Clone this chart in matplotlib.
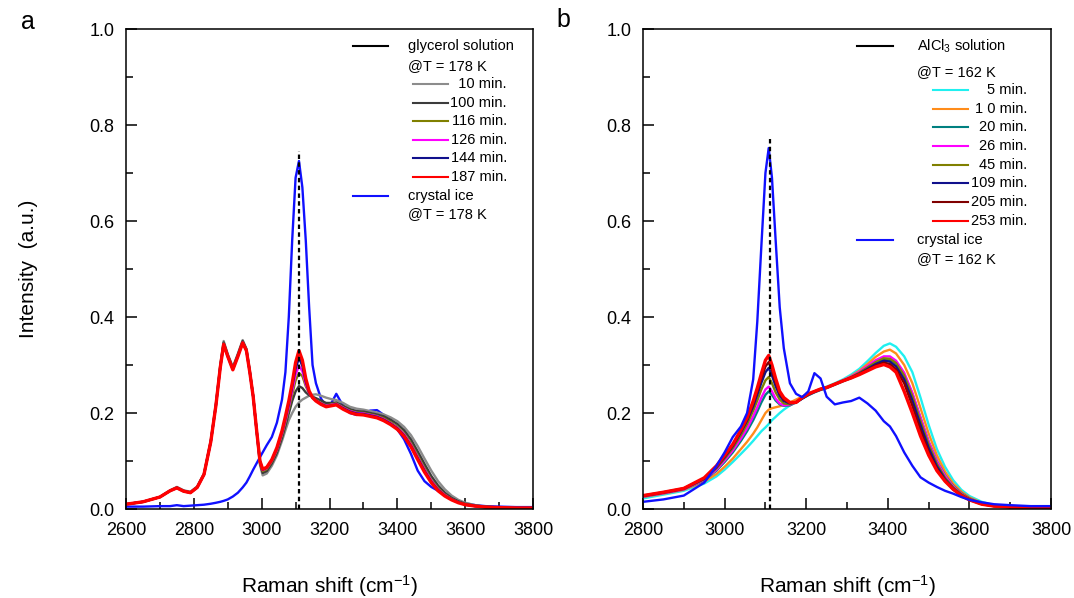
import matplotlib
matplotlib.use("Agg")
import matplotlib.pyplot as plt
from matplotlib.ticker import MultipleLocator

plt.rcParams['font.family'] = ['Liberation Sans', 'DejaVu Sans']
plt.rcParams['mathtext.fontset'] = 'custom'
plt.rcParams['mathtext.rm'] = 'Liberation Sans'
plt.rcParams['mathtext.it'] = 'Liberation Sans'
plt.rcParams['mathtext.default'] = 'regular'

# ---- panel a: glycerol solution @178 K ----
xa = [2600, 2650, 2700, 2730, 2750, 2770, 2790, 2810, 2830, 2850,
      2865, 2878, 2888, 2900, 2915, 2930, 2944, 2955, 2965, 2975,
      2985, 2995, 3003, 3015, 3030, 3045, 3060, 3070, 3080, 3090,
      3100, 3110, 3120, 3130, 3140, 3150, 3160, 3175, 3190, 3205,
      3220, 3240, 3260, 3280, 3300, 3320, 3340, 3360, 3380, 3400,
      3420, 3440, 3460, 3480, 3500, 3520, 3540, 3560, 3580, 3600,
      3630, 3660, 3700, 3750, 3800]

gly_10 = [0.010, 0.015, 0.025, 0.039, 0.046, 0.039, 0.036, 0.047, 0.074, 0.143,
          0.219, 0.300, 0.350, 0.323, 0.296, 0.324, 0.352, 0.334, 0.288, 0.235,
          0.162, 0.092, 0.070, 0.074, 0.090, 0.112, 0.142, 0.164, 0.185, 0.200,
          0.213, 0.222, 0.228, 0.232, 0.236, 0.238, 0.239, 0.236, 0.232, 0.229,
          0.227, 0.221, 0.213, 0.209, 0.207, 0.204, 0.201, 0.197, 0.191, 0.183,
          0.171, 0.154, 0.131, 0.105, 0.080, 0.058, 0.041, 0.028, 0.019, 0.013,
          0.008, 0.005, 0.003, 0.002, 0.002]
gly_100 = [0.010, 0.015, 0.025, 0.038, 0.045, 0.038, 0.035, 0.046, 0.073, 0.141,
           0.217, 0.298, 0.347, 0.321, 0.294, 0.322, 0.350, 0.333, 0.287, 0.235,
           0.164, 0.095, 0.075, 0.079, 0.095, 0.117, 0.148, 0.173, 0.199, 0.225,
           0.245, 0.256, 0.252, 0.243, 0.237, 0.234, 0.231, 0.226, 0.221, 0.221,
           0.222, 0.215, 0.208, 0.204, 0.203, 0.200, 0.197, 0.193, 0.186, 0.177,
           0.164, 0.145, 0.120, 0.094, 0.069, 0.049, 0.034, 0.023, 0.016, 0.011,
           0.007, 0.005, 0.003, 0.002, 0.002]
gly_116 = [0.010, 0.015, 0.025, 0.038, 0.044, 0.037, 0.034, 0.045, 0.072, 0.140,
           0.215, 0.296, 0.345, 0.319, 0.292, 0.320, 0.348, 0.331, 0.286, 0.235,
           0.165, 0.098, 0.079, 0.083, 0.099, 0.122, 0.154, 0.180, 0.208, 0.238,
           0.268, 0.283, 0.277, 0.256, 0.241, 0.232, 0.227, 0.221, 0.216, 0.218,
           0.220, 0.212, 0.205, 0.201, 0.200, 0.197, 0.194, 0.189, 0.181, 0.171,
           0.157, 0.137, 0.111, 0.085, 0.061, 0.043, 0.030, 0.021, 0.014, 0.010,
           0.006, 0.004, 0.003, 0.002, 0.002]
gly_126 = [0.010, 0.015, 0.025, 0.038, 0.044, 0.037, 0.034, 0.045, 0.072, 0.140,
           0.215, 0.295, 0.344, 0.318, 0.291, 0.319, 0.347, 0.330, 0.285, 0.234,
           0.165, 0.099, 0.081, 0.085, 0.101, 0.124, 0.157, 0.184, 0.213, 0.246,
           0.280, 0.298, 0.287, 0.260, 0.242, 0.232, 0.226, 0.220, 0.215, 0.217,
           0.219, 0.211, 0.204, 0.200, 0.199, 0.196, 0.193, 0.187, 0.179, 0.169,
           0.155, 0.134, 0.108, 0.082, 0.059, 0.041, 0.029, 0.020, 0.014, 0.009,
           0.006, 0.004, 0.003, 0.002, 0.002]
gly_144 = [0.010, 0.015, 0.025, 0.038, 0.044, 0.037, 0.034, 0.045, 0.072, 0.140,
           0.215, 0.295, 0.344, 0.318, 0.291, 0.319, 0.347, 0.330, 0.285, 0.234,
           0.165, 0.100, 0.082, 0.086, 0.102, 0.126, 0.160, 0.188, 0.218, 0.254,
           0.292, 0.315, 0.298, 0.265, 0.243, 0.232, 0.226, 0.219, 0.214, 0.216,
           0.218, 0.210, 0.203, 0.199, 0.198, 0.195, 0.192, 0.186, 0.178, 0.168,
           0.153, 0.132, 0.106, 0.080, 0.057, 0.040, 0.028, 0.020, 0.014, 0.009,
           0.006, 0.004, 0.003, 0.002, 0.002]
gly_187 = [0.010, 0.015, 0.025, 0.038, 0.044, 0.037, 0.034, 0.045, 0.072, 0.140,
           0.215, 0.295, 0.343, 0.318, 0.290, 0.318, 0.346, 0.330, 0.285, 0.234,
           0.165, 0.100, 0.083, 0.087, 0.103, 0.128, 0.163, 0.193, 0.225, 0.262,
           0.305, 0.330, 0.310, 0.272, 0.246, 0.232, 0.225, 0.218, 0.213, 0.215,
           0.217, 0.208, 0.201, 0.197, 0.196, 0.193, 0.190, 0.184, 0.176, 0.166,
           0.151, 0.130, 0.103, 0.077, 0.055, 0.038, 0.027, 0.019, 0.013, 0.009,
           0.006, 0.004, 0.003, 0.002, 0.002]
ice_a = [0.005, 0.005, 0.006, 0.006, 0.008, 0.006, 0.007, 0.008, 0.009, 0.011,
         0.013, 0.015, 0.017, 0.020, 0.026, 0.034, 0.045, 0.055, 0.068, 0.082,
         0.095, 0.108, 0.118, 0.133, 0.150, 0.180, 0.228, 0.285, 0.400, 0.560,
         0.690, 0.725, 0.670, 0.560, 0.420, 0.300, 0.262, 0.230, 0.215, 0.220,
         0.240, 0.215, 0.200, 0.196, 0.198, 0.205, 0.206, 0.196, 0.180, 0.166,
         0.145, 0.115, 0.080, 0.058, 0.046, 0.038, 0.030, 0.023, 0.017, 0.012,
         0.008, 0.006, 0.005, 0.004, 0.004]

gly_labels = ['  10 min.', '100 min.', '116 min.', '126 min.', '144 min.', '187 min.']
gly_colors = ['#8c8c8c', '#3c3c3c', '#808000', '#ff00ff', '#10108c', '#ff0000']

# ---- panel b: AlCl3 solution @162 K ----
xb = [2800, 2850, 2900, 2950, 2980, 3000, 3020, 3040, 3055, 3070,
      3080, 3090, 3100, 3108, 3116, 3125, 3135, 3145, 3160, 3175,
      3190, 3205, 3220, 3235, 3250, 3270, 3290, 3310, 3330, 3350,
      3370, 3390, 3405, 3420, 3440, 3460, 3480, 3500, 3520, 3540,
      3560, 3580, 3600, 3630, 3660, 3700, 3750, 3800]

alc_5 = [0.022, 0.030, 0.038, 0.053, 0.068, 0.082, 0.098, 0.115, 0.128, 0.142,
         0.152, 0.162, 0.170, 0.177, 0.185, 0.192, 0.200, 0.207, 0.216, 0.224,
         0.232, 0.238, 0.244, 0.250, 0.255, 0.262, 0.270, 0.280, 0.292, 0.308,
         0.325, 0.340, 0.345, 0.338, 0.318, 0.285, 0.232, 0.175, 0.125, 0.088,
         0.060, 0.040, 0.027, 0.015, 0.008, 0.005, 0.004, 0.003]
alc_10 = [0.025, 0.032, 0.040, 0.057, 0.073, 0.088, 0.105, 0.125, 0.140, 0.157,
          0.170, 0.185, 0.200, 0.207, 0.210, 0.212, 0.214, 0.217, 0.222, 0.228,
          0.234, 0.240, 0.245, 0.250, 0.254, 0.261, 0.268, 0.277, 0.288, 0.302,
          0.317, 0.328, 0.332, 0.324, 0.300, 0.262, 0.210, 0.157, 0.112, 0.078,
          0.053, 0.036, 0.024, 0.013, 0.007, 0.005, 0.004, 0.003]
alc_20 = [0.026, 0.033, 0.041, 0.060, 0.080, 0.098, 0.118, 0.142, 0.162, 0.185,
          0.203, 0.222, 0.238, 0.245, 0.238, 0.226, 0.218, 0.215, 0.216, 0.222,
          0.230, 0.237, 0.243, 0.248, 0.252, 0.259, 0.266, 0.273, 0.282, 0.293,
          0.303, 0.310, 0.311, 0.303, 0.280, 0.240, 0.190, 0.140, 0.100, 0.070,
          0.048, 0.033, 0.022, 0.012, 0.007, 0.005, 0.003, 0.003]
alc_26 = [0.026, 0.033, 0.041, 0.061, 0.082, 0.101, 0.122, 0.147, 0.168, 0.193,
          0.212, 0.232, 0.249, 0.255, 0.245, 0.230, 0.220, 0.216, 0.217, 0.223,
          0.231, 0.238, 0.244, 0.249, 0.253, 0.260, 0.268, 0.276, 0.286, 0.298,
          0.310, 0.318, 0.318, 0.309, 0.284, 0.242, 0.190, 0.140, 0.099, 0.069,
          0.047, 0.032, 0.021, 0.012, 0.007, 0.005, 0.003, 0.003]
alc_45 = [0.027, 0.034, 0.042, 0.062, 0.085, 0.105, 0.127, 0.154, 0.177, 0.205,
          0.226, 0.249, 0.268, 0.275, 0.262, 0.243, 0.228, 0.220, 0.218, 0.223,
          0.231, 0.238, 0.244, 0.249, 0.253, 0.260, 0.267, 0.275, 0.284, 0.295,
          0.306, 0.314, 0.313, 0.304, 0.278, 0.235, 0.183, 0.134, 0.094, 0.065,
          0.045, 0.031, 0.021, 0.011, 0.007, 0.004, 0.003, 0.003]
alc_109 = [0.027, 0.034, 0.042, 0.063, 0.087, 0.108, 0.131, 0.160, 0.184, 0.214,
           0.238, 0.263, 0.285, 0.294, 0.278, 0.256, 0.236, 0.225, 0.220, 0.222,
           0.230, 0.238, 0.244, 0.249, 0.253, 0.260, 0.267, 0.274, 0.282, 0.292,
           0.302, 0.309, 0.307, 0.297, 0.270, 0.226, 0.175, 0.127, 0.089, 0.062,
           0.043, 0.029, 0.020, 0.011, 0.006, 0.004, 0.003, 0.003]
alc_205 = [0.028, 0.035, 0.043, 0.064, 0.089, 0.110, 0.133, 0.163, 0.187, 0.220,
           0.245, 0.272, 0.297, 0.306, 0.289, 0.264, 0.241, 0.228, 0.221, 0.222,
           0.231, 0.239, 0.245, 0.250, 0.253, 0.260, 0.267, 0.273, 0.281, 0.290,
           0.299, 0.305, 0.302, 0.291, 0.262, 0.215, 0.165, 0.119, 0.084, 0.059,
           0.041, 0.028, 0.019, 0.010, 0.006, 0.004, 0.003, 0.003]
alc_253 = [0.028, 0.035, 0.043, 0.065, 0.090, 0.112, 0.135, 0.165, 0.190, 0.225,
           0.252, 0.282, 0.310, 0.320, 0.300, 0.272, 0.245, 0.232, 0.222, 0.222,
           0.232, 0.240, 0.245, 0.250, 0.253, 0.260, 0.267, 0.273, 0.280, 0.288,
           0.296, 0.301, 0.296, 0.285, 0.245, 0.200, 0.152, 0.112, 0.080, 0.058,
           0.041, 0.028, 0.019, 0.010, 0.006, 0.004, 0.003, 0.003]
ice_b = [0.015, 0.020, 0.028, 0.055, 0.090, 0.118, 0.150, 0.172, 0.200, 0.270,
         0.390, 0.548, 0.700, 0.752, 0.690, 0.560, 0.420, 0.335, 0.262, 0.240,
         0.233, 0.245, 0.283, 0.272, 0.234, 0.218, 0.222, 0.225, 0.232, 0.220,
         0.205, 0.183, 0.172, 0.152, 0.118, 0.090, 0.066, 0.055, 0.046, 0.038,
         0.032, 0.025, 0.019, 0.014, 0.010, 0.008, 0.006, 0.006]

alc_labels = ['5 min.', '1 0 min.', '20 min.', '26 min.', '45 min.',
              '109 min.', '205 min.', '253 min.']
alc_colors = ['#20f0f0', '#ff8c1a', '#008080', '#ff00ff', '#808000',
              '#10108c', '#800000', '#ff0000']

# dashed reference line (ice peak position) and its height in each panel
peak_pos = 3110
peak_top_a = 0.745
peak_top_b = 0.77

ICE = '#1010ff'
LW = 1.7


def style_axes(ax, xmin, xmax):
    ax.set_xlim(xmin, xmax)
    ax.set_ylim(0, 1.0)
    ax.xaxis.set_major_locator(MultipleLocator(200))
    ax.xaxis.set_minor_locator(MultipleLocator(100))
    ax.yaxis.set_major_locator(MultipleLocator(0.2))
    ax.yaxis.set_minor_locator(MultipleLocator(0.1))
    ax.yaxis.set_major_formatter(plt.FuncFormatter(lambda v, p: f'{v:.1f}'))
    ax.tick_params(which='both', direction='in', top=False, right=False,
                   labelsize=13, width=1.1)
    ax.tick_params(axis='x', which='major', length=8, pad=9)
    ax.tick_params(axis='y', which='major', length=8, pad=8.5)
    ax.tick_params(which='minor', length=5)
    for s in ax.spines.values():
        s.set_linewidth(1.1)
    ax.set_xlabel('Raman shift (cm$^{-1}$)', fontsize=15, labelpad=25)


def legend_block(ax, head_x, text_x, sub_x, sub_text_x, rows, header, temp,
                 labels, colors, ice_rows):
    t = ax.transAxes
    fs = 10.5
    ax.plot(head_x, [rows[0]] * 2, color='black', lw=1.5, transform=t)
    ax.text(text_x, rows[0], header, transform=t, fontsize=fs, va='center')
    ax.text(text_x, rows[1], temp, transform=t, fontsize=fs, va='center')
    for i, (lab, c) in enumerate(zip(labels, colors)):
        y = rows[2 + i]
        ax.plot(sub_x, [y, y], color=c, lw=1.5, transform=t)
        ax.text(sub_text_x, y, lab, transform=t, fontsize=fs, va='center', ha='right')
    ax.plot(head_x, [ice_rows[0]] * 2, color=ICE, lw=1.5, transform=t)
    ax.text(text_x, ice_rows[0], 'crystal ice', transform=t, fontsize=fs, va='center')
    ax.text(text_x, ice_rows[1], temp, transform=t, fontsize=fs, va='center')


fig = plt.figure(figsize=(10.74, 5.98), dpi=100)
ax_a = fig.add_axes([0.1173, 0.1488, 0.379, 0.8027])
ax_b = fig.add_axes([0.5987, 0.1488, 0.380, 0.8027])

# panel a
ax_a.plot(xa, ice_a, color=ICE, lw=LW)
for ys, c in zip([gly_10, gly_100, gly_116, gly_126, gly_144, gly_187], gly_colors):
    ax_a.plot(xa, ys, color=c, lw=2.4 if c == '#ff0000' else LW)
ax_a.plot([peak_pos, peak_pos], [0, peak_top_a], color='black', lw=1.6,
          ls=(0, (2, 1.5)))
style_axes(ax_a, 2600, 3800)
ax_a.set_ylabel('Intensity  (a.u.)', fontsize=15, labelpad=37)
legend_block(ax_a, [0.558, 0.644], 0.693, [0.705, 0.791], 0.936,
             [0.965, 0.923, 0.885, 0.846, 0.808, 0.769, 0.731, 0.692],
             'glycerol solution', '@T = 178 K', gly_labels, gly_colors,
             [0.653, 0.615])

# panel b
alc_series = [alc_5, alc_10, alc_20, alc_26, alc_45, alc_109, alc_205, alc_253]
for ys, c in zip(alc_series, alc_colors):
    ax_b.plot(xb, ys, color=c, lw=2.4 if c == '#ff0000' else LW)
ax_b.plot(xb, ice_b, color=ICE, lw=LW)
ax_b.plot([peak_pos, peak_pos], [0, peak_top_b], color='black', lw=1.6,
          ls=(0, (2, 1.5)))
style_axes(ax_b, 2800, 3800)
legend_block(ax_b, [0.525, 0.613], 0.672, [0.711, 0.797], 0.941,
             [0.965, 0.911, 0.873, 0.833, 0.795, 0.756, 0.717, 0.679, 0.639, 0.601],
             'AlCl$_3$ solution', '@T = 162 K', alc_labels, alc_colors,
             [0.560, 0.521])

fig.text(28 / 1074, 1 - 22 / 598, 'a', fontsize=18, ha='center', va='center')
fig.text(563 / 1074, 1 - 20 / 598, 'b', fontsize=18, ha='center', va='center')

fig.savefig('out.png', dpi=100)
